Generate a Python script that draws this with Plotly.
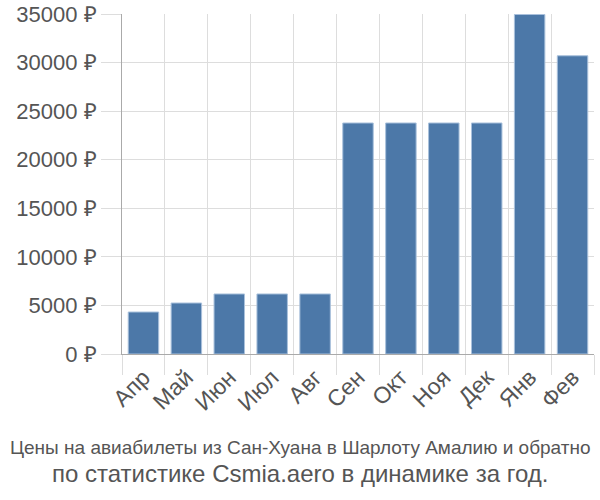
import plotly.graph_objects as go

months = ["Апр", "Май", "Июн", "Июл", "Авг", "Сен", "Окт", "Ноя", "Дек", "Янв", "Фев"]
prices = [4320, 5250, 6180, 6180, 6180, 23780, 23780, 23780, 23780, 34950, 30700]
tick_vals = [0, 5000, 10000, 15000, 20000, 25000, 30000, 35000]
tick_text = [f"{v} ₽" for v in tick_vals]
title_line1 = "Цены на авиабилеты из Сан-Хуана в Шарлоту Амалию и обратно"
title_line2 = "по статистике Csmia.aero в динамике за год."

FONT = "Liberation Sans, Arial, sans-serif"

fig = go.Figure(go.Bar(
    x=months, y=prices,
    marker=dict(color="#4c78a8", line=dict(color="#a9c1dc", width=1)),
    width=0.71,
))

L, R, T, B = 122, 6, 14, 146
fig.update_layout(
    width=600, height=500,
    margin=dict(l=L, r=R, t=T, b=B),
    plot_bgcolor="white", paper_bgcolor="white",
    showlegend=False,
    font=dict(family=FONT, color="#555"),
    xaxis=dict(
        type="category", tickson="boundaries", automargin=False,
        showgrid=True, gridcolor="#dddddd", gridwidth=1,
        ticks="outside", ticklen=20, tickcolor="#dddddd",
        tickangle=-45, tickfont=dict(size=23, color="#555"),
        showline=True, linecolor="#aaaaaa", linewidth=1,
    ),
    yaxis=dict(
        range=[0, 35000], tickvals=tick_vals, ticktext=tick_text, automargin=False,
        showgrid=True, gridcolor="#dddddd", gridwidth=1,
        ticks="outside", ticklen=20, tickcolor="#dddddd",
        tickfont=dict(size=22, color="#555"),
        showline=True, linecolor="#aaaaaa", linewidth=1,
        zeroline=False,
    ),
)

plot_w = 600 - L - R
plot_h = 500 - T - B
for text, py, size in [(title_line1, 447, 19), (title_line2, 473, 24)]:
    fig.add_annotation(
        text=text, showarrow=False, xref="paper", yref="paper",
        x=(300 - L) / plot_w, y=(500 - B - py) / plot_h,
        xanchor="center", yanchor="middle",
        font=dict(size=size, color="#555", family=FONT),
    )

fig.write_html("out.html")
